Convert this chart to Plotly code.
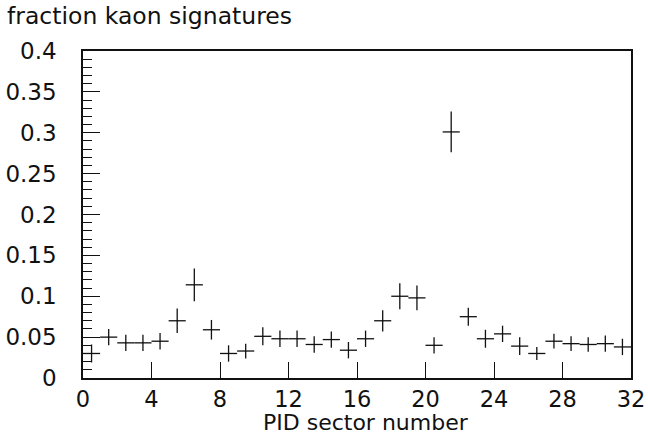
import plotly.graph_objects as go

# PID sector bins (centres of unit-wide sectors 0..31)
sectors = [i + 0.5 for i in range(32)]
fraction = [0.030, 0.050, 0.043, 0.043, 0.045, 0.070, 0.114, 0.059,
            0.030, 0.033, 0.051, 0.048, 0.048, 0.041, 0.047, 0.034,
            0.048, 0.070, 0.100, 0.098, 0.040, 0.301, 0.075, 0.048,
            0.054, 0.039, 0.030, 0.045, 0.042, 0.041, 0.042, 0.038]
fraction_err = [0.011, 0.010, 0.010, 0.010, 0.010, 0.015, 0.020, 0.012,
                0.010, 0.009, 0.011, 0.010, 0.010, 0.010, 0.010, 0.010,
                0.010, 0.013, 0.016, 0.015, 0.010, 0.025, 0.011, 0.011,
                0.010, 0.011, 0.008, 0.009, 0.009, 0.009, 0.010, 0.010]
half_width = [0.5] * 32
x_ticks = [0, 4, 8, 12, 16, 20, 24, 28, 32]

FONT = "DejaVu Sans"
INK = "#111111"

# plot-area geometry in pixels
L, R, T, B = 83, 17, 51, 57
W, H = 648, 435
PW, PH = W - L - R, H - T - B


def px_to_paper(px, py):
    return (px - L) / PW, (H - B - py) / PH


fig = go.Figure(
    go.Scatter(
        x=sectors,
        y=fraction,
        mode="markers",
        marker=dict(size=1, color=INK),
        error_x=dict(type="data", array=half_width, width=0, thickness=1.3, color=INK),
        error_y=dict(type="data", array=fraction_err, width=0, thickness=1.3, color=INK),
        showlegend=False,
    )
)

ytx, yty = px_to_paper(5, 16)
xtx, xty = px_to_paper(366, 422)

fig.update_layout(
    width=W,
    height=H,
    margin=dict(l=L, r=R, t=T, b=B),
    paper_bgcolor="white",
    plot_bgcolor="white",
    font=dict(family=FONT, size=23, color=INK),
    xaxis=dict(
        range=[0, 32],
        tickvals=x_ticks,
        ticks="inside",
        ticklen=16,
        tickwidth=1.4,
        tickcolor=INK,
        showline=True,
        linecolor=INK,
        linewidth=1.6,
        mirror=True,
        showgrid=False,
        zeroline=False,
        ticklabelstandoff=0,
        tickfont=dict(size=22.5),
        automargin=False,
    ),
    yaxis=dict(
        range=[0, 0.4],
        dtick=0.05,
        tick0=0,
        ticks="inside",
        ticklen=17,
        tickwidth=1.4,
        tickcolor=INK,
        minor=dict(dtick=0.01, ticks="inside", ticklen=9, tickwidth=1.2, tickcolor=INK),
        showline=True,
        linecolor=INK,
        linewidth=1.6,
        mirror=True,
        showgrid=False,
        zeroline=False,
        ticklabelstandoff=20,
        automargin=False,
    ),
    annotations=[
        dict(
            text="fraction kaon signatures",
            xref="paper", yref="paper",
            x=ytx, y=yty,
            xanchor="left", yanchor="middle",
            showarrow=False,
            font=dict(size=23.5, family=FONT, color=INK),
        ),
        dict(
            text="PID sector number",
            xref="paper", yref="paper",
            x=xtx, y=xty,
            xanchor="center", yanchor="middle",
            showarrow=False,
            borderpad=0,
            font=dict(size=22, family=FONT, color=INK),
        ),
    ],
)

fig.write_html("out.html")
